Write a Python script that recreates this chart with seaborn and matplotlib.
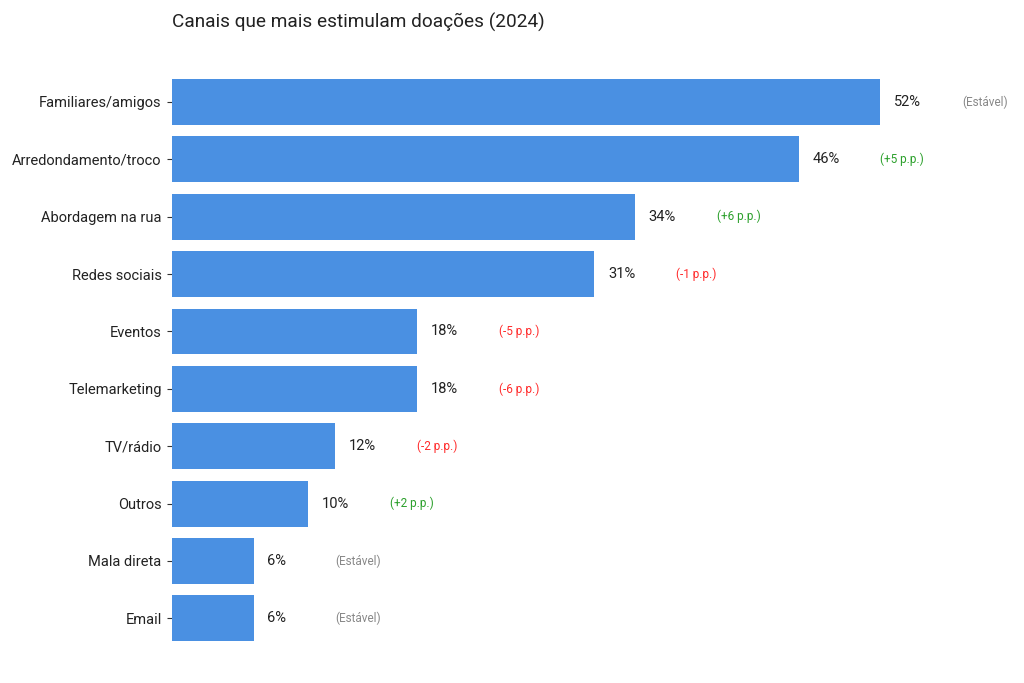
import pandas as pd
import seaborn as sns
import matplotlib.pyplot as plt

# data
canais = ['Familiares/amigos', 'Arredondamento/troco', 'Abordagem na rua', 'Redes sociais',
          'Eventos', 'Telemarketing', 'TV/rádio', 'Outros', 'Mala direta', 'Email']
percentuais = [52, 46, 34, 31, 18, 18, 12, 10, 6, 6]
variacoes = ['(Estável)', '(+5 p.p.)', '(+6 p.p.)', '(-1 p.p.)', '(-5 p.p.)',
             '(-6 p.p.)', '(-2 p.p.)', '(+2 p.p.)', '(Estável)', '(Estável)']

df = pd.DataFrame({'Canal': canais, 'Percentual': percentuais, 'Variacao': variacoes})

sns.set_style('white')
plt.rcParams['font.family'] = ['Roboto', 'DejaVu Sans']

fig = plt.figure(figsize=(10.24, 6.83), dpi=100)
ax = fig.add_axes([172 / 1024, 0.0527, 850 / 1024, 0.840])

sns.barplot(data=df, x='Percentual', y='Canal', color='#4A90E2', width=0.8,
            saturation=1, linewidth=0, ax=ax)

def cor_variacao(txt):
    if '+' in txt:
        return '#2ca02c'
    if '-' in txt:
        return '#ff2b2b'
    return '#888888'

for i, row in df.iterrows():
    ax.text(row['Percentual'] + 1, i, f"{row['Percentual']}%", va='center', ha='left',
            fontsize=10.5, color='#222222')
    ax.text(row['Percentual'] + 6, i, row['Variacao'], va='center', ha='left',
            fontsize=8.5, color=cor_variacao(row['Variacao']))

ax.set_xlim(0, 62.4)
ax.set_xlabel('')
ax.set_ylabel('')
ax.set_xticks([])
ax.tick_params(axis='y', length=3.5, width=0.8, color='#333333', labelsize=10.5,
               labelcolor='#222222', left=True, pad=4)
sns.despine(ax=ax, left=True, bottom=True)

fig.text(172 / 1024, 1 - 22 / 683, 'Canais que mais estimulam doações (2024)',
         ha='left', va='center', fontsize=13.7, color='#222222')

plt.savefig('out.png', dpi=100)
